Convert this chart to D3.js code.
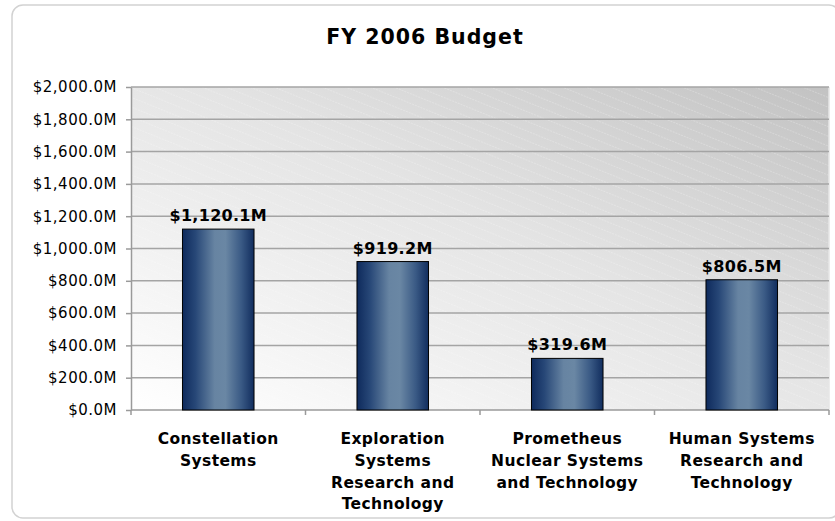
<!DOCTYPE html>
<html>
<head>
<meta charset="utf-8">
<script src="https://cdn.jsdelivr.net/npm/d3@7"></script>
<style>
    body { margin: 0; background: #fff; }
    svg text { font-family: "DejaVu Sans", Verdana, sans-serif; fill: #000; }
    .axis path, .axis line { stroke: #9a9a9a; stroke-width: 1.5; }
    .y-axis text { font-size: 15px; letter-spacing: 0.5px; }
</style>
</head>
<body>
<svg id="chart"></svg>
<script>
// data
const categories = ['Constellation Systems', 'Exploration Systems Research and Technology',
    'Prometheus Nuclear Systems and Technology', 'Human Systems Research and Technology'];
const categoryLines = [
    ['Constellation', 'Systems'],
    ['Exploration', 'Systems', 'Research and', 'Technology'],
    ['Prometheus', 'Nuclear Systems', 'and Technology'],
    ['Human Systems', 'Research and', 'Technology']
];
const budget = [1120.1, 919.2, 319.6, 806.5];
const yTicks = [0, 200, 400, 600, 800, 1000, 1200, 1400, 1600, 1800, 2000];
const title = 'FY 2006 Budget';

const width = 835, height = 521;
const margin = { top: 87, right: 6, bottom: 111, left: 131 };
const innerW = width - margin.left - margin.right;
const innerH = height - margin.top - margin.bottom;
const money = v => '$' + d3.format(',.1f')(v) + 'M';

const svg = d3.select('#chart').attr('width', width).attr('height', height);
const defs = svg.append('defs');

// plot background: diagonal grey gradient
const bg = defs.append('linearGradient').attr('id', 'bgGrad')
    .attr('x1', 0).attr('y1', 1).attr('x2', 1).attr('y2', 0);
bg.append('stop').attr('offset', '0%').attr('stop-color', '#ffffff');
bg.append('stop').attr('offset', '55%').attr('stop-color', '#e4e4e4');
bg.append('stop').attr('offset', '100%').attr('stop-color', '#c2c2c2');

// faint diagonal stripes
const stripes = defs.append('pattern').attr('id', 'stripes')
    .attr('patternUnits', 'userSpaceOnUse')
    .attr('width', 12).attr('height', 9)
    .attr('patternTransform', 'rotate(22)');
stripes.append('line').attr('x1', 0).attr('y1', 0.5).attr('x2', 12).attr('y2', 0.5)
    .attr('stroke', '#fff').attr('stroke-opacity', 0.22).attr('stroke-width', 1)
    .attr('stroke-dasharray', '2,1');

// bar gradient
const bar = defs.append('linearGradient').attr('id', 'barGrad')
    .attr('x1', 0).attr('y1', 0).attr('x2', 1).attr('y2', 0);
[['0%', '#0e2a5c'], ['18%', '#274777'], ['45%', '#6784a2'], ['60%', '#6a87a4'],
 ['82%', '#3a5a85'], ['100%', '#112d5e']].forEach(s =>
    bar.append('stop').attr('offset', s[0]).attr('stop-color', s[1]));

// chart frame (right edge runs off the picture)
svg.append('rect').attr('x', 12).attr('y', 5).attr('width', 828).attr('height', 513)
    .attr('rx', 11).attr('fill', '#fff').attr('stroke', '#d2d2d2').attr('stroke-width', 1.5);

svg.append('text').attr('x', 425).attr('y', 44).attr('text-anchor', 'middle')
    .style('font-size', '20.5px').style('font-weight', 'bold').style('letter-spacing', '1px')
    .text(title);

const chart = svg.append('g').attr('transform', `translate(${margin.left},${margin.top})`);

const x = d3.scaleBand().domain(categories).range([0, innerW]).paddingInner(0.59).paddingOuter(0.295);
const xBound = d3.scaleBand().domain(categories).range([0, innerW]);
const y = d3.scaleLinear().domain([0, 2000]).range([innerH, 0]);

chart.append('rect').attr('width', innerW).attr('height', innerH).attr('fill', 'url(#bgGrad)');
chart.append('rect').attr('width', innerW).attr('height', innerH).attr('fill', 'url(#stripes)');
chart.append('line').attr('x1', innerW).attr('x2', innerW).attr('y1', 0).attr('y2', innerH)
    .attr('stroke', '#e6e6e6').attr('stroke-width', 1.5);

// gridlines
chart.append('g').selectAll('line').data(yTicks.filter(d => d > 0)).join('line')
    .attr('x1', 0).attr('x2', innerW)
    .attr('y1', d => y(d)).attr('y2', d => y(d))
    .attr('stroke', '#a4a4a4').attr('stroke-width', 1.5);

// y axis
chart.append('g').attr('class', 'axis y-axis')
    .call(d3.axisLeft(y).tickValues(yTicks).tickFormat(money).tickSize(5).tickSizeOuter(0).tickPadding(9));

// x axis with ticks at category boundaries
const xAxisG = chart.append('g').attr('class', 'axis x-axis').attr('transform', `translate(0,${innerH})`);
xAxisG.append('line').attr('x1', 0).attr('x2', innerW).attr('stroke', '#9a9a9a').attr('stroke-width', 1.5);
xAxisG.selectAll('.tick').data(categories).join('line').attr('class', 'tick')
    .attr('x1', d => xBound(d) + xBound.bandwidth()).attr('x2', d => xBound(d) + xBound.bandwidth())
    .attr('y1', 0).attr('y2', 5).attr('stroke', '#9a9a9a').attr('stroke-width', 1.5);
xAxisG.append('line').attr('x1', 0).attr('x2', 0).attr('y1', 0).attr('y2', 5)
    .attr('stroke', '#9a9a9a').attr('stroke-width', 1.5);

const labels = xAxisG.selectAll('text.cat').data(categories).join('text').attr('class', 'cat')
    .attr('text-anchor', 'middle')
    .attr('transform', d => `translate(${xBound(d) + xBound.bandwidth() / 2},34)`)
    .style('font-size', '15.5px').style('font-weight', 'bold').style('letter-spacing', '0.4px');
labels.selectAll('tspan').data((d, i) => categoryLines[i]).join('tspan')
    .attr('x', 0).attr('y', (d, i) => i * 21.8).text(d => d);

// bars
chart.append('g').selectAll('rect').data(categories).join('rect')
    .attr('x', d => x(d)).attr('width', x.bandwidth())
    .attr('y', (d, i) => y(budget[i])).attr('height', (d, i) => innerH - y(budget[i]))
    .attr('fill', 'url(#barGrad)').attr('stroke', '#000').attr('stroke-width', 1);

// value labels
chart.append('g').selectAll('text').data(categories).join('text')
    .attr('x', d => x(d) + x.bandwidth() / 2).attr('y', (d, i) => y(budget[i]) - 8)
    .attr('text-anchor', 'middle')
    .style('font-size', '16px').style('font-weight', 'bold').style('letter-spacing', '0.3px')
    .text((d, i) => money(budget[i]));
</script>
</body>
</html>
